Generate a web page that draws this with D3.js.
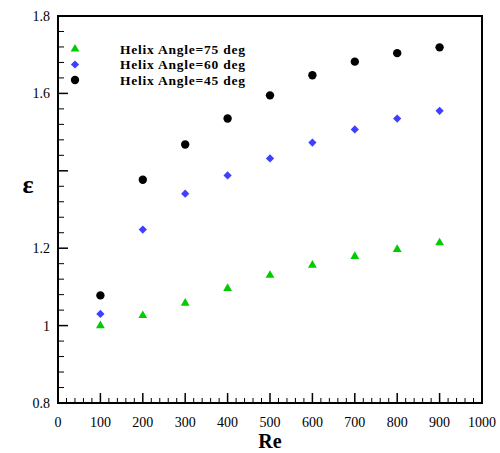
<!DOCTYPE html>
<html>
<head>
<meta charset="utf-8">
<script src="https://cdn.jsdelivr.net/npm/d3@7"></script>
<style>
  body { margin: 0; background: #fff; }
  text { font-family: "Liberation Serif", "Times New Roman", serif; }
</style>
</head>
<body>
<svg id="chart" width="500" height="453"></svg>
<script>
// data
var reValues = [100, 200, 300, 400, 500, 600, 700, 800, 900];
var eps75 = [1.000, 1.026, 1.058, 1.096, 1.130, 1.156, 1.179, 1.197, 1.214];
var eps60 = [1.030, 1.248, 1.341, 1.388, 1.432, 1.473, 1.507, 1.535, 1.555];
var eps45 = [1.078, 1.377, 1.468, 1.535, 1.595, 1.647, 1.682, 1.704, 1.719];
var seriesNames = ["Helix Angle=75 deg", "Helix Angle=60 deg", "Helix Angle=45 deg"];
var xTicks = [0, 100, 200, 300, 400, 500, 600, 700, 800, 900, 1000];
var yTicks = [0.8, 1, 1.2, 1.4, 1.6, 1.8];
var yTickLabels = ["0.8", "1", "1.2", "", "1.6", "1.8"];

// plot box (named so they don't clash with window.top)
var pL = 58, pR = 482, pT = 16, pB = 403;

var svg = d3.select("#chart");

var x = d3.scaleLinear().domain([0, 1000]).range([pL, pR]);
var y = d3.scaleLinear().domain([0.8, 1.8]).range([pB, pT]);

// diamond = square turned 45deg, so it is as wide as tall
var series = [
  { name: seriesNames[0], vals: eps75, color: "#00cc00", shape: d3.symbolTriangle, size: 34, rot: 0 },
  { name: seriesNames[1], vals: eps60, color: "#3f3fff", shape: d3.symbolSquare, size: 34, rot: 45 },
  { name: seriesNames[2], vals: eps45, color: "#000000", shape: d3.symbolCircle, size: 55, rot: 0 }
];

// minor ticks (inward)
var xMinor = d3.range(0, 1001, 20).filter(function(v){ return v % 100 != 0; });
var yMinor = d3.range(0, 26).map(function(i){ return 0.8 + i * 0.04; })
  .filter(function(v, i){ return i % 5 != 0; });

var ax = svg.append("g").attr("stroke", "#000");
ax.selectAll("line.xmin").data(xMinor).enter().append("line")
  .attr("x1", function(d){ return x(d); }).attr("x2", function(d){ return x(d); })
  .attr("y1", pB).attr("y2", pB - 5).attr("stroke-width", 1);
ax.selectAll("line.xmaj").data(xTicks).enter().append("line")
  .attr("x1", function(d){ return x(d); }).attr("x2", function(d){ return x(d); })
  .attr("y1", pB).attr("y2", pB - 10).attr("stroke-width", 1.5);
ax.selectAll("line.ymin").data(yMinor).enter().append("line")
  .attr("y1", function(d){ return y(d); }).attr("y2", function(d){ return y(d); })
  .attr("x1", pL).attr("x2", pL + 6).attr("stroke-width", 1);
ax.selectAll("line.ymaj").data(yTicks).enter().append("line")
  .attr("y1", function(d){ return y(d); }).attr("y2", function(d){ return y(d); })
  .attr("x1", pL).attr("x2", pL + 10).attr("stroke-width", 1.5);

// frame
svg.append("rect")
  .attr("x", pL).attr("y", pT)
  .attr("width", pR - pL).attr("height", pB - pT)
  .attr("fill", "none").attr("stroke", "#000").attr("stroke-width", 2);

// tick labels
svg.selectAll("text.xl").data(xTicks).enter().append("text")
  .attr("x", function(d){ return x(d); }).attr("y", pB + 24)
  .attr("text-anchor", "middle").attr("font-size", 14)
  .text(function(d){ return d; });
svg.selectAll("text.yl").data(yTicks).enter().append("text")
  .attr("x", pL - 8).attr("y", function(d){ return y(d) + 5; })
  .attr("text-anchor", "end").attr("font-size", 14)
  .text(function(d, i){ return yTickLabels[i]; });

// axis titles
svg.append("text").attr("x", x(500)).attr("y", 448)
  .attr("text-anchor", "middle").attr("font-size", 20).attr("font-weight", "bold")
  .text("Re");
svg.append("text").attr("x", 28).attr("y", 193)
  .attr("text-anchor", "middle").attr("font-size", 26).attr("font-weight", "bold")
  .text("ε");

// points
series.forEach(function(s){
  svg.append("g").selectAll("path").data(s.vals).enter().append("path")
    .attr("d", d3.symbol().type(s.shape).size(s.size))
    .attr("transform", function(d, i){
      return "translate(" + x(reValues[i]) + "," + y(d) + ") rotate(" + s.rot + ")";
    })
    .attr("fill", s.color);
});

// legend
var lg = svg.append("g");
series.forEach(function(s, i){
  var ly = 49 + i * 15.5;
  lg.append("path")
    .attr("d", d3.symbol().type(s.shape).size(s.size))
    .attr("transform", "translate(75," + ly + ") rotate(" + s.rot + ")")
    .attr("fill", s.color);
  lg.append("text").attr("x", 120).attr("y", ly + 4.5)
    .attr("font-size", 13.5).attr("font-weight", "bold")
    .attr("textLength", 125).attr("lengthAdjust", "spacing")
    .text(s.name);
});
</script>
</body>
</html>
